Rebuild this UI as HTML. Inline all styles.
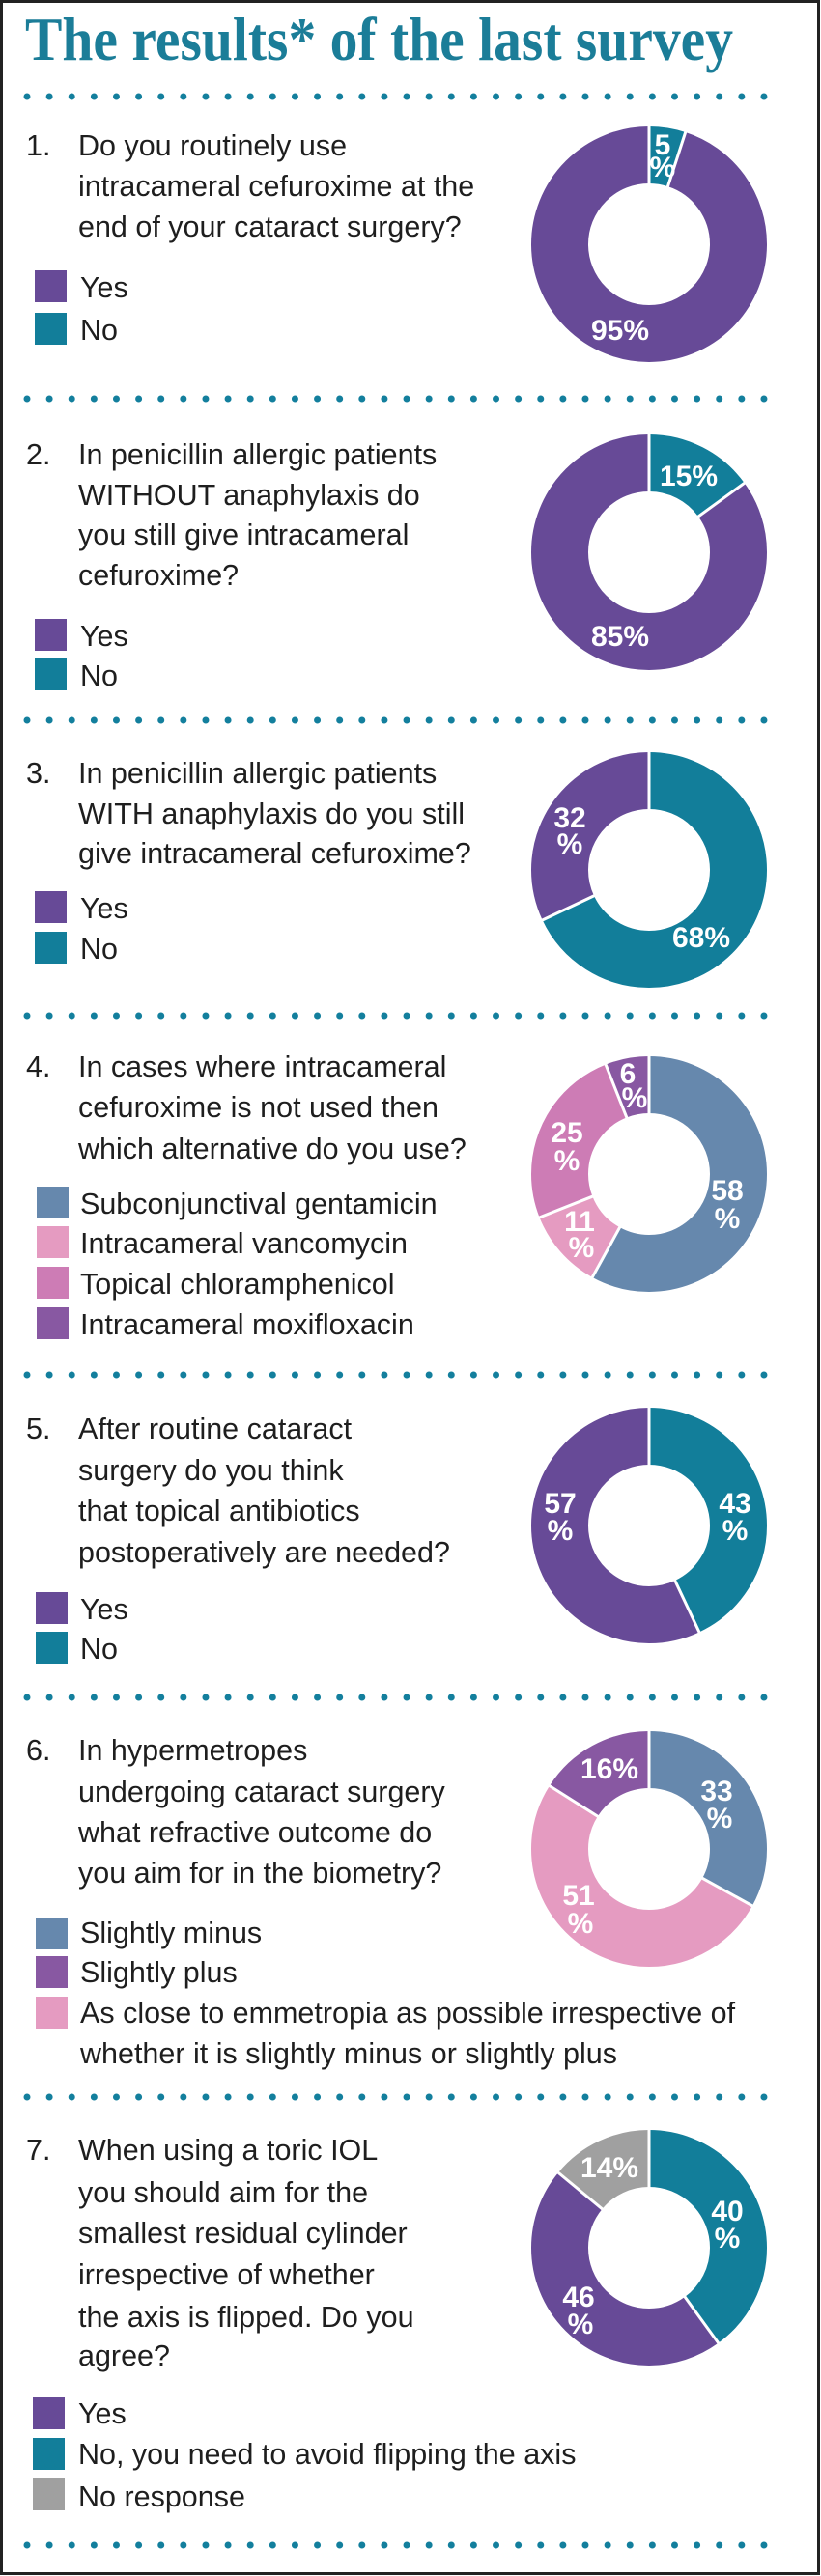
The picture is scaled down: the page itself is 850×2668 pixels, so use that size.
<!DOCTYPE html>
<html><head><meta charset="utf-8"><style>
html,body{margin:0;padding:0;background:#fff;}
svg{display:block}
.q{font-family:"Liberation Sans",sans-serif;font-size:30.5px;fill:#1e1e1e}
.p{font-family:"Liberation Sans",sans-serif;font-size:30px;font-weight:bold;fill:#fff}
.t{font-family:"Liberation Serif",serif;font-size:64px;font-weight:bold;fill:#1b7d98}
.d{stroke:#137f9d;stroke-width:7;stroke-linecap:round;stroke-dasharray:0 23.12}
.s{stroke:#fff;stroke-width:3}
</style></head><body>
<svg width="850" height="2668" viewBox="0 0 850 2668" xmlns="http://www.w3.org/2000/svg">
<rect x="1.5" y="1.5" width="846" height="2664" fill="#fff" stroke="#222" stroke-width="3"/>
<text class="t" x="26" y="62" textLength="733" lengthAdjust="spacingAndGlyphs">The results* of the last survey</text>

<g>
<line class="d" x1="28" x2="793" y1="100" y2="100"/>
<line class="d" x1="28" x2="793" y1="413" y2="413"/>
<line class="d" x1="28" x2="793" y1="746" y2="746"/>
<line class="d" x1="28" x2="793" y1="1052" y2="1052"/>
<line class="d" x1="28" x2="793" y1="1424" y2="1424"/>
<line class="d" x1="28" x2="793" y1="1758" y2="1758"/>
<line class="d" x1="28" x2="793" y1="2172" y2="2172"/>
<line class="d" x1="28" x2="793" y1="2636" y2="2636"/>
</g>

<!-- Q1 -->
<text class="q" x="27" y="161">1.</text>
<text class="q" x="81" y="161">Do you routinely use</text>
<text class="q" x="81" y="203">intracameral cefuroxime at the</text>
<text class="q" x="81" y="245">end of your cataract surgery?</text>
<rect x="36" y="280" width="33" height="33" fill="#674a97"/><text class="q" x="83" y="308">Yes</text>
<rect x="36" y="324" width="33" height="33" fill="#127e9a"/><text class="q" x="83" y="352">No</text>
<g transform="rotate(-90 672 253)" fill="none" stroke-width="59">
<circle cx="672" cy="253" r="92.5" stroke="#127e9a" stroke-dasharray="29.06 1000"/>
<circle cx="672" cy="253" r="92.5" stroke="#674a97" stroke-dasharray="552.1 1000" stroke-dashoffset="-29.06"/>
</g>
<g transform="translate(672 253)"><line class="s" x1="0" y1="-62" x2="0" y2="-123"/><line class="s" x1="0" y1="-62" x2="0" y2="-123" transform="rotate(18)"/></g>
<text class="p" x="686" y="160" text-anchor="middle" font-size="26">5</text>
<text class="p" x="686" y="183" text-anchor="middle" font-size="26">%</text>
<text class="p" x="642" y="352" text-anchor="middle">95%</text>

<!-- Q2 -->
<text class="q" x="27" y="481">2.</text>
<text class="q" x="81" y="481">In penicillin allergic patients</text>
<text class="q" x="81" y="523">WITHOUT anaphylaxis do</text>
<text class="q" x="81" y="564">you still give intracameral</text>
<text class="q" x="81" y="606">cefuroxime?</text>
<rect x="36" y="641" width="33" height="33" fill="#674a97"/><text class="q" x="83" y="669">Yes</text>
<rect x="36" y="682" width="33" height="33" fill="#127e9a"/><text class="q" x="83" y="710">No</text>
<g transform="rotate(-90 672 572)" fill="none" stroke-width="59">
<circle cx="672" cy="572" r="92.5" stroke="#127e9a" stroke-dasharray="87.18 1000"/>
<circle cx="672" cy="572" r="92.5" stroke="#674a97" stroke-dasharray="494 1000" stroke-dashoffset="-87.18"/>
</g>
<g transform="translate(672 572)"><line class="s" x1="0" y1="-62" x2="0" y2="-123"/><line class="s" x1="0" y1="-62" x2="0" y2="-123" transform="rotate(54)"/></g>
<text class="p" x="713" y="503" text-anchor="middle">15%</text>
<text class="p" x="642" y="669" text-anchor="middle">85%</text>

<!-- Q3 -->
<text class="q" x="27" y="811">3.</text>
<text class="q" x="81" y="811">In penicillin allergic patients</text>
<text class="q" x="81" y="853">WITH anaphylaxis do you still</text>
<text class="q" x="81" y="894">give intracameral cefuroxime?</text>
<rect x="36" y="923" width="33" height="33" fill="#674a97"/><text class="q" x="83" y="951">Yes</text>
<rect x="36" y="965" width="33" height="33" fill="#127e9a"/><text class="q" x="83" y="993">No</text>
<g transform="rotate(-90 672 901)" fill="none" stroke-width="59">
<circle cx="672" cy="901" r="92.5" stroke="#127e9a" stroke-dasharray="395.2 1000"/>
<circle cx="672" cy="901" r="92.5" stroke="#674a97" stroke-dasharray="186 1000" stroke-dashoffset="-395.2"/>
</g>
<g transform="translate(672 901)"><line class="s" x1="0" y1="-62" x2="0" y2="-123"/><line class="s" x1="0" y1="-62" x2="0" y2="-123" transform="rotate(244.8)"/></g>
<text class="p" x="590" y="857" text-anchor="middle">32</text>
<text class="p" x="590" y="884" text-anchor="middle">%</text>
<text class="p" x="726" y="981" text-anchor="middle">68%</text>

<!-- Q4 -->
<text class="q" x="27" y="1115">4.</text>
<text class="q" x="81" y="1115">In cases where intracameral</text>
<text class="q" x="81" y="1157">cefuroxime is not used then</text>
<text class="q" x="81" y="1200">which alternative do you use?</text>
<rect x="38" y="1229" width="33" height="33" fill="#6688ad"/><text class="q" x="83" y="1257">Subconjunctival gentamicin</text>
<rect x="38" y="1270" width="33" height="33" fill="#e59bc1"/><text class="q" x="83" y="1298">Intracameral vancomycin</text>
<rect x="38" y="1312" width="33" height="33" fill="#cd7cb5"/><text class="q" x="83" y="1340">Topical chloramphenicol</text>
<rect x="38" y="1354" width="33" height="33" fill="#8858a2"/><text class="q" x="83" y="1382">Intracameral moxifloxacin</text>
<g transform="rotate(-90 672 1216)" fill="none" stroke-width="59">
<circle cx="672" cy="1216" r="92.5" stroke="#6688ad" stroke-dasharray="337.1 1000"/>
<circle cx="672" cy="1216" r="92.5" stroke="#e59bc1" stroke-dasharray="63.93 1000" stroke-dashoffset="-337.1"/>
<circle cx="672" cy="1216" r="92.5" stroke="#cd7cb5" stroke-dasharray="145.3 1000" stroke-dashoffset="-401.03"/>
<circle cx="672" cy="1216" r="92.5" stroke="#8858a2" stroke-dasharray="34.87 1000" stroke-dashoffset="-546.33"/>
</g>
<g transform="translate(672 1216)"><line class="s" x1="0" y1="-62" x2="0" y2="-123"/><line class="s" x1="0" y1="-62" x2="0" y2="-123" transform="rotate(208.8)"/><line class="s" x1="0" y1="-62" x2="0" y2="-123" transform="rotate(248.4)"/><line class="s" x1="0" y1="-62" x2="0" y2="-123" transform="rotate(338.4)"/></g>
<text class="p" x="650" y="1122" text-anchor="middle" font-size="26">6</text>
<text class="p" x="657" y="1147" text-anchor="middle" font-size="26">%</text>
<text class="p" x="587" y="1183" text-anchor="middle">25</text>
<text class="p" x="587" y="1212" text-anchor="middle">%</text>
<text class="p" x="600" y="1275" text-anchor="middle">11</text>
<text class="p" x="602" y="1302" text-anchor="middle">%</text>
<text class="p" x="753" y="1243" text-anchor="middle">58</text>
<text class="p" x="753" y="1272" text-anchor="middle">%</text>

<!-- Q5 -->
<text class="q" x="27" y="1490">5.</text>
<text class="q" x="81" y="1490">After routine cataract</text>
<text class="q" x="81" y="1533">surgery do you think</text>
<text class="q" x="81" y="1575">that topical antibiotics</text>
<text class="q" x="81" y="1618">postoperatively are needed?</text>
<rect x="37" y="1649" width="33" height="33" fill="#674a97"/><text class="q" x="83" y="1677">Yes</text>
<rect x="37" y="1690" width="33" height="33" fill="#127e9a"/><text class="q" x="83" y="1718">No</text>
<g transform="rotate(-90 672 1580)" fill="none" stroke-width="59">
<circle cx="672" cy="1580" r="92.5" stroke="#127e9a" stroke-dasharray="249.9 1000"/>
<circle cx="672" cy="1580" r="92.5" stroke="#674a97" stroke-dasharray="331.3 1000" stroke-dashoffset="-249.9"/>
</g>
<g transform="translate(672 1580)"><line class="s" x1="0" y1="-62" x2="0" y2="-123"/><line class="s" x1="0" y1="-62" x2="0" y2="-123" transform="rotate(154.8)"/></g>
<text class="p" x="580" y="1567" text-anchor="middle">57</text>
<text class="p" x="580" y="1595" text-anchor="middle">%</text>
<text class="p" x="761" y="1567" text-anchor="middle">43</text>
<text class="p" x="761" y="1595" text-anchor="middle">%</text>

<!-- Q6 -->
<text class="q" x="27" y="1823">6.</text>
<text class="q" x="81" y="1823">In hypermetropes</text>
<text class="q" x="81" y="1866">undergoing cataract surgery</text>
<text class="q" x="81" y="1908">what refractive outcome do</text>
<text class="q" x="81" y="1950">you aim for in the biometry?</text>
<rect x="37" y="1986" width="33" height="33" fill="#6688ad"/><text class="q" x="83" y="2012">Slightly minus</text>
<rect x="37" y="2026" width="33" height="33" fill="#8858a2"/><text class="q" x="83" y="2053">Slightly plus</text>
<rect x="37" y="2068" width="33" height="33" fill="#e59bc1"/><text class="q" x="83" y="2095">As close to emmetropia as possible irrespective of</text>
<text class="q" x="83" y="2137">whether it is slightly minus or slightly plus</text>
<g transform="rotate(-90 672 1915)" fill="none" stroke-width="59">
<circle cx="672" cy="1915" r="92.5" stroke="#6688ad" stroke-dasharray="191.8 1000"/>
<circle cx="672" cy="1915" r="92.5" stroke="#e59bc1" stroke-dasharray="296.4 1000" stroke-dashoffset="-191.8"/>
<circle cx="672" cy="1915" r="92.5" stroke="#8858a2" stroke-dasharray="93 1000" stroke-dashoffset="-488.2"/>
</g>
<g transform="translate(672 1915)"><line class="s" x1="0" y1="-62" x2="0" y2="-123"/><line class="s" x1="0" y1="-62" x2="0" y2="-123" transform="rotate(118.8)"/><line class="s" x1="0" y1="-62" x2="0" y2="-123" transform="rotate(302.4)"/></g>
<text class="p" x="631" y="1842" text-anchor="middle">16%</text>
<text class="p" x="742" y="1865" text-anchor="middle">33</text>
<text class="p" x="745" y="1893" text-anchor="middle">%</text>
<text class="p" x="599" y="1973" text-anchor="middle">51</text>
<text class="p" x="601" y="2002" text-anchor="middle">%</text>

<!-- Q7 -->
<text class="q" x="27" y="2237">7.</text>
<text class="q" x="81" y="2237">When using a toric IOL</text>
<text class="q" x="81" y="2281">you should aim for the</text>
<text class="q" x="81" y="2323">smallest residual cylinder</text>
<text class="q" x="81" y="2366">irrespective of whether</text>
<text class="q" x="81" y="2410">the axis is flipped. Do you</text>
<text class="q" x="81" y="2450">agree?</text>
<rect x="34" y="2483" width="33" height="33" fill="#674a97"/><text class="q" x="81" y="2510">Yes</text>
<rect x="34" y="2525" width="33" height="33" fill="#127e9a"/><text class="q" x="81" y="2552">No, you need to avoid flipping the axis</text>
<rect x="34" y="2567" width="33" height="33" fill="#a0a0a0"/><text class="q" x="81" y="2596">No response</text>
<g transform="rotate(-90 672 2328)" fill="none" stroke-width="59">
<circle cx="672" cy="2328" r="92.5" stroke="#127e9a" stroke-dasharray="232.5 1000"/>
<circle cx="672" cy="2328" r="92.5" stroke="#674a97" stroke-dasharray="267.4 1000" stroke-dashoffset="-232.5"/>
<circle cx="672" cy="2328" r="92.5" stroke="#a0a0a0" stroke-dasharray="81.4 1000" stroke-dashoffset="-499.9"/>
</g>
<g transform="translate(672 2328)"><line class="s" x1="0" y1="-62" x2="0" y2="-123"/><line class="s" x1="0" y1="-62" x2="0" y2="-123" transform="rotate(144)"/><line class="s" x1="0" y1="-62" x2="0" y2="-123" transform="rotate(309.6)"/></g>
<text class="p" x="631" y="2255" text-anchor="middle">14%</text>
<text class="p" x="753" y="2300" text-anchor="middle">40</text>
<text class="p" x="753" y="2328" text-anchor="middle">%</text>
<text class="p" x="599" y="2389" text-anchor="middle">46</text>
<text class="p" x="601" y="2417" text-anchor="middle">%</text>
</svg>
</body></html>
